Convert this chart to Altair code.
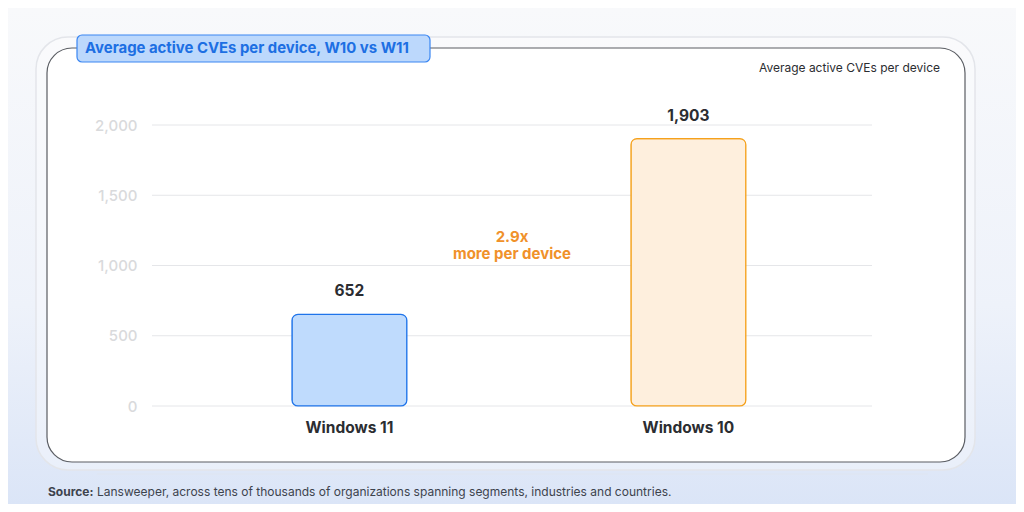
import altair as alt
import pandas as pd

# ---- data ----
categories = ["Windows 11", "Windows 10"]
values = [652, 1903]
fills = ["#bfdbfd", "#feefdd"]
strokes = ["#1f74ea", "#f5a11c"]
tick_values = [0, 500, 1000, 1500, 2000]
title_text = "Average active CVEs per device, W10 vs W11"
subtitle_text = "Average active CVEs per device"
annotation_lines = ["2.9x", "more per device"]
source_bold = "Source:"
source_text = "Lansweeper, across tens of thousands of organizations spanning segments, industries and countries."

W, H = 720, 281
FONT = "Inter"

bars_df = pd.DataFrame({"os": categories, "value": values})
ticks_df = pd.DataFrame({"tick": tick_values})
one = pd.DataFrame({"a": [0]})

x_scale = alt.Scale(domain=categories, paddingInner=0.661, paddingOuter=0.3925, align=0.526)
y_scale = alt.Scale(domain=[0, 2000], nice=False)

y_axis = alt.Axis(values=tick_values, format=",.0f", ticks=False, domain=False, grid=False,
                  labelFont=FONT, labelFontSize=15, labelFontWeight=500,
                  labelColor="#d9dadc", labelPadding=15, zindex=1)

bg = alt.Chart(one).mark_rect(
    fill=alt.Gradient(
        gradient="linear",
        stops=[alt.GradientStop(color="#f8f9fb", offset=0),
               alt.GradientStop(color="#eef2fa", offset=0.6),
               alt.GradientStop(color="#dbe5f7", offset=1)],
        x1=0, x2=0, y1=0, y2=1,
    )
).encode(x=alt.value(-144), x2=alt.value(864), y=alt.value(-117), y2=alt.value(379))

outer = alt.Chart(one).mark_rect(
    fill="white", fillOpacity=0.35, stroke="#e3e5ea", strokeWidth=1.5, cornerRadius=32
).encode(x=alt.value(-116), x2=alt.value(823), y=alt.value(-88), y2=alt.value(345))

inner = alt.Chart(one).mark_rect(
    fill="white", stroke="#5a5d63", strokeWidth=1.2, cornerRadius=25
).encode(x=alt.value(-105), x2=alt.value(813), y=alt.value(-77), y2=alt.value(337))

sep = alt.Chart(one).mark_rule(color="#dfe5f0", strokeWidth=1).encode(
    x=alt.value(-55), x2=alt.value(776), y=alt.value(349)
)

title_box = alt.Chart(one).mark_rect(
    fill="#bcd8fc", stroke="#3a86f2", strokeWidth=1.2, cornerRadius=5
).encode(x=alt.value(-75), x2=alt.value(278), y=alt.value(-90), y2=alt.value(-63))

title = alt.Chart(one).mark_text(
    text=title_text, font=FONT, fontSize=14.9, fontWeight="bold", color="#1d6fe3",
    align="left", baseline="middle"
).encode(x=alt.value(-67), y=alt.value(-76.5))

subtitle = alt.Chart(one).mark_text(
    text=subtitle_text, font=FONT, fontSize=12, color="#2b2d31",
    align="right", baseline="middle"
).encode(x=alt.value(788), y=alt.value(-57))

src1 = alt.Chart(one).mark_text(
    text=source_bold, font=FONT, fontSize=12, fontWeight="bold", color="#3d434d",
    align="left", baseline="middle"
).encode(x=alt.value(-104), y=alt.value(367))

src2 = alt.Chart(one).mark_text(
    text=source_text, font=FONT, fontSize=12, color="#3d434d",
    align="left", baseline="middle"
).encode(x=alt.value(-55), y=alt.value(367))

grid = alt.Chart(ticks_df).mark_rule(color="#e5e6e9", strokeWidth=1).encode(
    y=alt.Y("tick:Q", scale=y_scale, title=None, axis=y_axis),
    x=alt.value(0), x2=alt.value(W),
)

bars = alt.Chart(bars_df).mark_bar(cornerRadius=6, strokeWidth=1.2).encode(
    x=alt.X("os:N", scale=x_scale, sort=categories, title=None,
            axis=alt.Axis(labelAngle=0, ticks=False, domain=False, grid=False,
                          labelFont=FONT, labelFontSize=15.5, labelFontWeight="bold",
                          labelColor="#2b2d31", labelPadding=14, zindex=1)),
    y=alt.Y("value:Q", scale=y_scale, title=None, axis=y_axis),
    fill=alt.Fill("os:N", scale=alt.Scale(domain=categories, range=fills), legend=None),
    stroke=alt.Stroke("os:N", scale=alt.Scale(domain=categories, range=strokes), legend=None),
)

labels = alt.Chart(bars_df).mark_text(
    font=FONT, fontSize=15.5, fontWeight="bold", color="#2b2d31", baseline="middle", dy=-23
).encode(
    x=alt.X("os:N", scale=x_scale, sort=categories),
    y=alt.Y("value:Q", scale=y_scale, axis=y_axis),
    text=alt.Text("value:Q", format=",.0f"),
)

annot = alt.Chart(one).mark_text(
    text=annotation_lines, font=FONT, fontSize=15, fontWeight="bold", color="#f0912a",
    align="center", baseline="middle", lineHeight=17
).encode(x=alt.value(360), y=alt.value(112))

chart = alt.layer(
    bg, outer, inner, sep, title_box, title, subtitle, src1, src2, grid, bars, labels, annot
).properties(
    width=W, height=H, autosize="none",
    padding={"left": 144, "top": 117, "right": 144, "bottom": 98},
).configure_view(stroke=None).configure(font=FONT)

chart.save("out.html", embed_options={"renderer": "svg", "actions": False})
